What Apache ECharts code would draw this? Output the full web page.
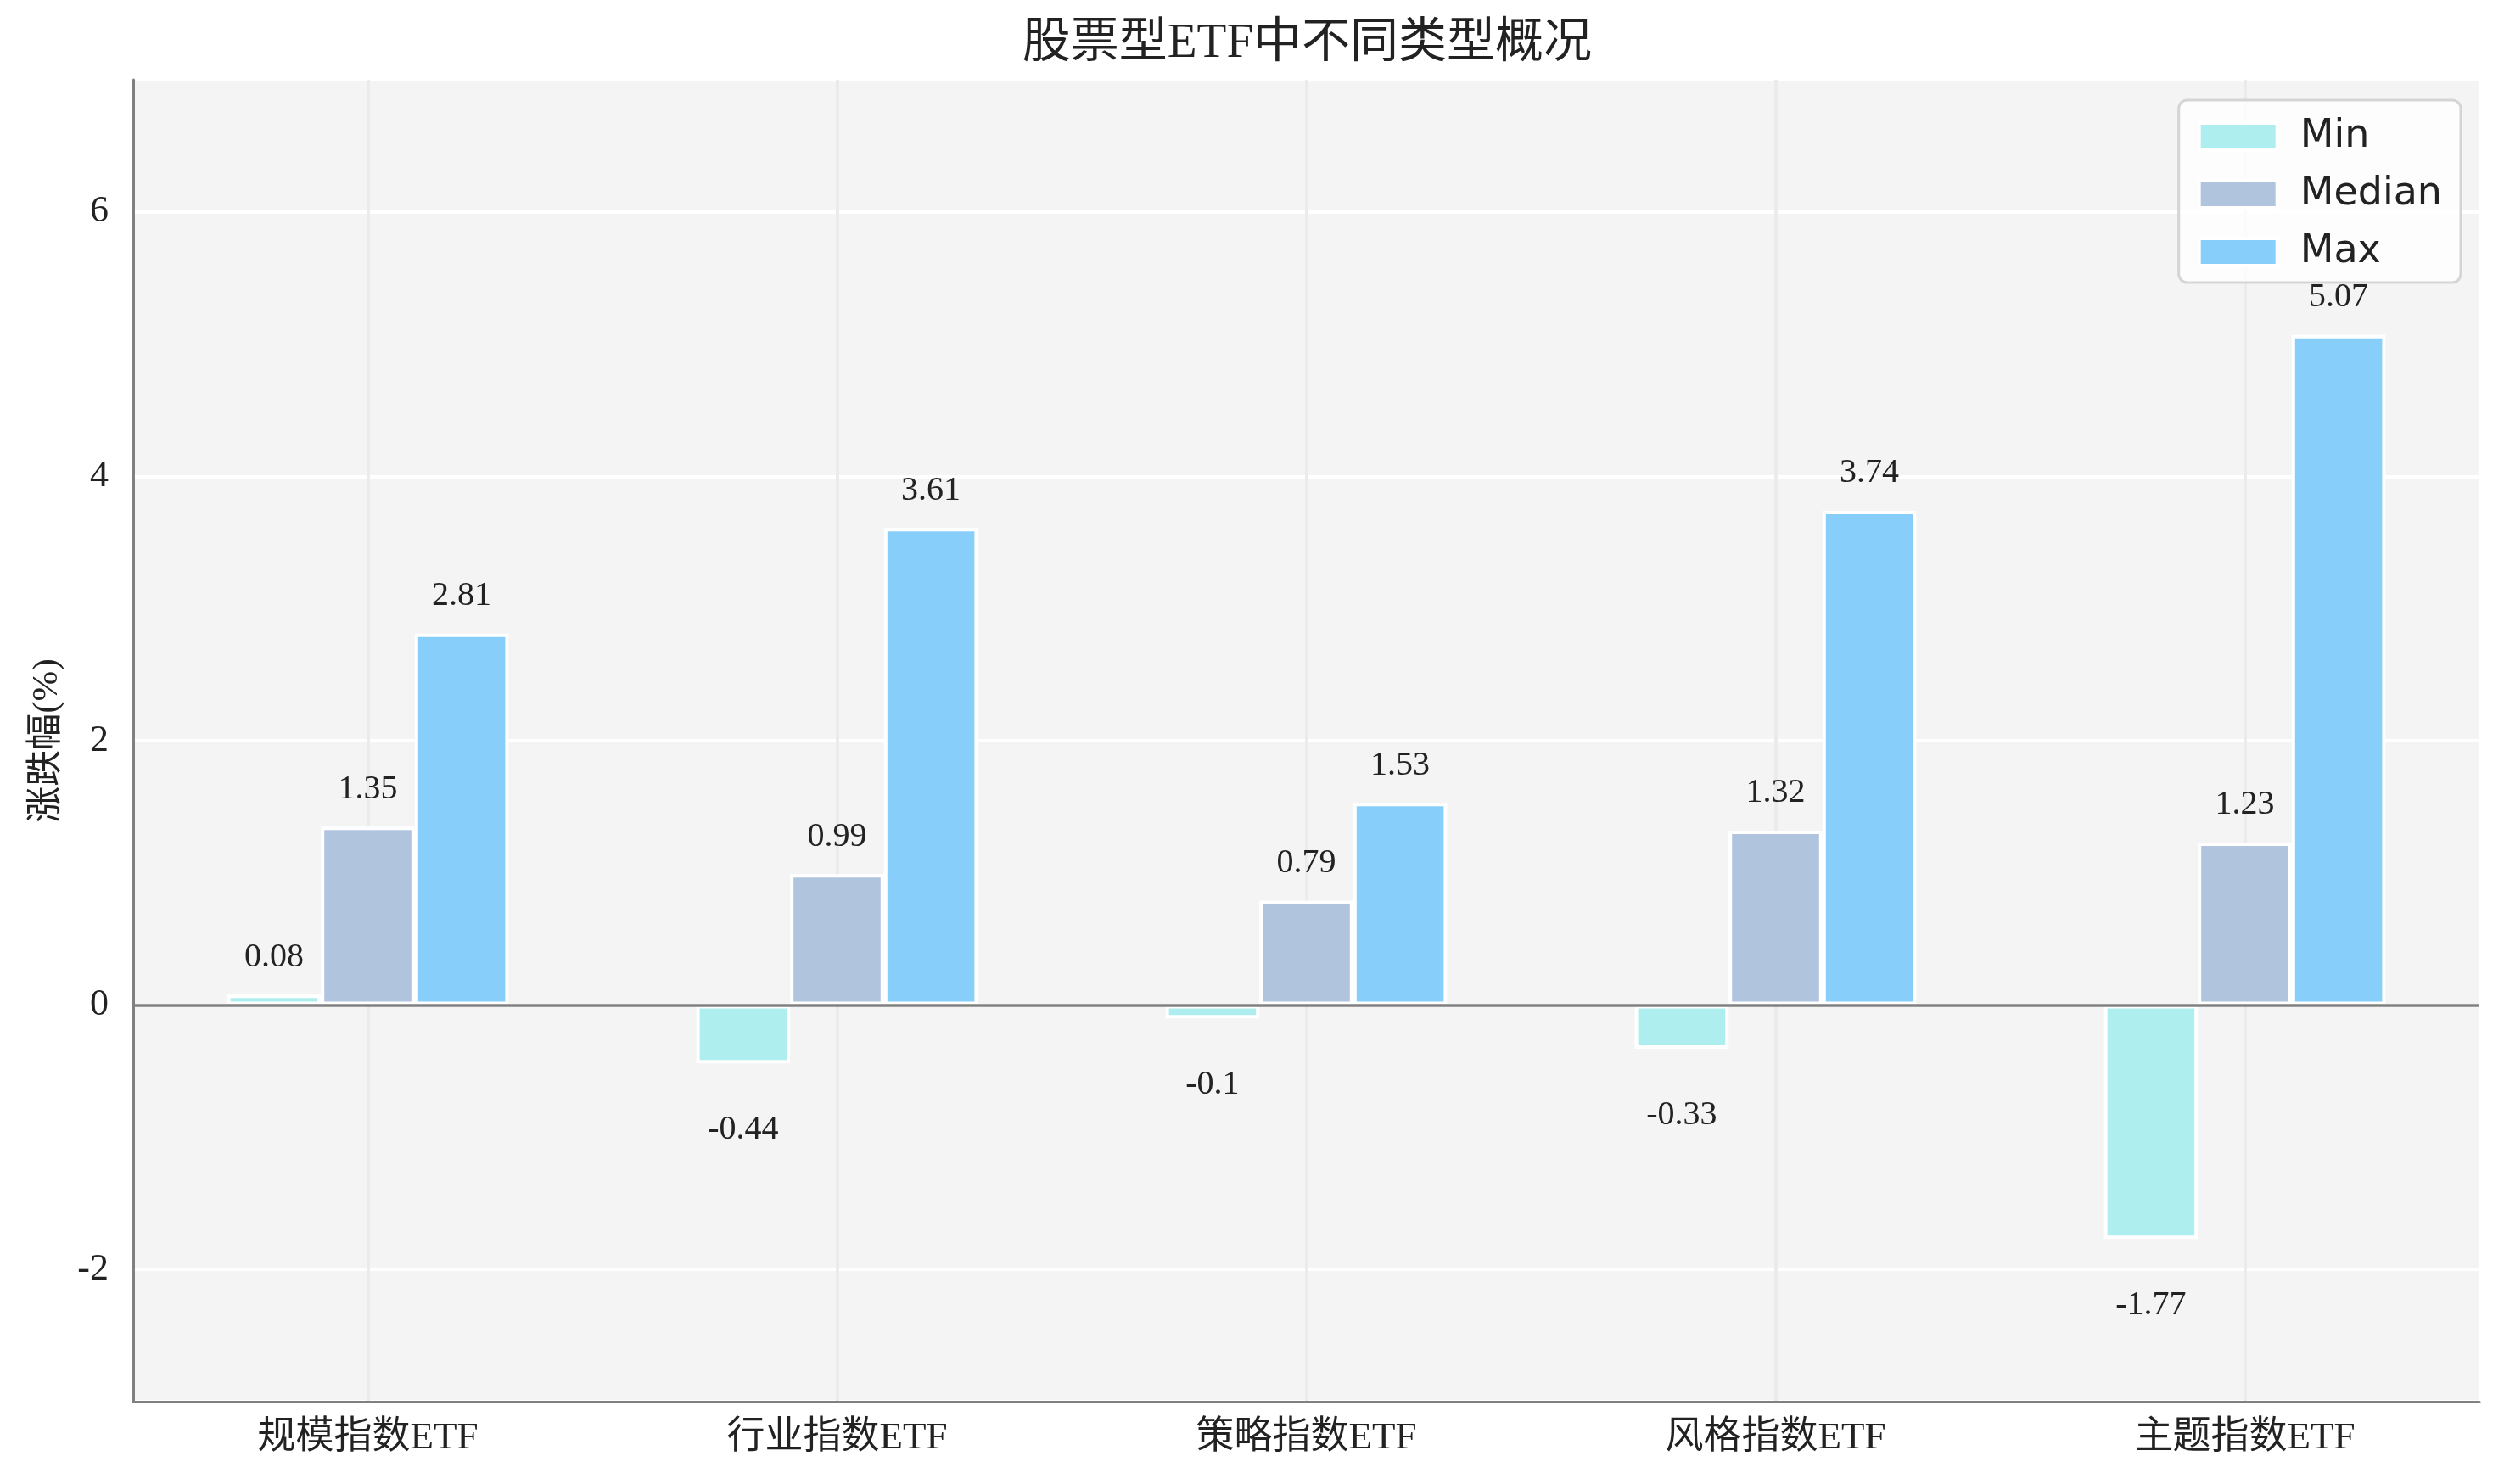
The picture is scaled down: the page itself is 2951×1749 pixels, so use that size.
<!DOCTYPE html>
<html>
<head>
<meta charset="utf-8">
<script src="https://cdn.jsdelivr.net/npm/echarts@6/dist/echarts.min.js"></script>
<style>
  html, body { margin: 0; padding: 0; background: #fff; }
  #chart { width: 2951px; height: 1749px; }
</style>
</head>
<body>
<div id="chart"></div>
<script>
var categories = ["规模指数ETF", "行业指数ETF", "策略指数ETF", "风格指数ETF", "主题指数ETF"];
var minValues = [0.08, -0.44, -0.1, -0.33, -1.77];
var medianValues = [1.35, 0.99, 0.79, 1.32, 1.23];
var maxValues = [2.81, 3.61, 1.53, 3.74, 5.07];
var seriesNames = ["Min", "Median", "Max"];
var seriesColors = ["#AFEEEE", "#B0C4DE", "#87CEFA"];

var serifFont = "'Liberation Serif', 'Noto Sans CJK SC', serif";

// labels sit above positive bars and below negative ones
function withLabels(values) {
  return values.map(function (v) {
    return {
      value: v,
      label: v >= 0
        ? { position: "top", distance: 24 }
        : { position: "bottom", distance: 58 }
    };
  });
}

function barSeries(name, values, color, extra) {
  var s = {
    name: name,
    type: "bar",
    barWidth: "20%",
    barGap: "0%",
    data: withLabels(values),
    itemStyle: {
      color: color,
      borderColor: "#fff",
      borderWidth: 4
    },
    label: {
      show: true,
      color: "#222",
      fontSize: 40,
      fontFamily: serifFont
    },
    emphasis: { disabled: true }
  };
  return Object.assign(s, extra || {});
}

var chartEl = document.getElementById("chart");
var chart = echarts.init(chartEl, null, { renderer: "canvas" });

chart.setOption({
  animation: false,
  backgroundColor: "#fff",
  title: {
    text: "股票型ETF中不同类型概况",
    left: "52.2%",
    textAlign: "center",
    top: 24,
    padding: 0,
    textStyle: {
      fontSize: 57,
      fontWeight: "normal",
      color: "#222",
      fontFamily: serifFont
    }
  },
  legend: {
    orient: "vertical",
    right: 51,
    top: 118,
    padding: [20, 22, 13, 22],
    itemWidth: 92,
    itemHeight: 32,
    itemGap: 22,
    backgroundColor: "rgba(255,255,255,0.8)",
    borderColor: "#d5d5d5",
    borderWidth: 3,
    borderRadius: 10,
    icon: "rect",
    itemStyle: { borderColor: "#fff", borderWidth: 4 },
    textStyle: {
      fontSize: 46,
      lineHeight: 45,
      color: "#222",
      fontFamily: "'DejaVu Sans', sans-serif",
      padding: [0, 0, 0, 22]
    },
    data: seriesNames
  },
  grid: {
    left: 157,
    right: 29,
    top: 94,
    bottom: 97,
    show: true,
    backgroundColor: "#f4f4f4",
    borderWidth: 0
  },
  xAxis: {
    type: "category",
    data: categories,
    axisLine: { onZero: false, lineStyle: { color: "#808080", width: 3 } },
    axisTick: { show: false, alignWithLabel: true },
    splitLine: {
      show: true,
      alignWithLabel: true,
      lineStyle: { color: "#ebebeb", width: 4 }
    },
    axisLabel: {
      margin: 21,
      fontSize: 45,
      color: "#222",
      fontFamily: serifFont
    }
  },
  yAxis: {
    type: "value",
    min: -3,
    max: 7,
    splitNumber: 5,
    name: "涨跌幅(%)",
    nameLocation: "middle",
    nameGap: 80,
    nameRotate: 90,
    nameTextStyle: {
      fontSize: 43,
      color: "#222",
      fontFamily: serifFont
    },
    axisLine: { show: true, lineStyle: { color: "#808080", width: 3 } },
    axisTick: { show: false },
    splitLine: { lineStyle: { color: "#ffffff", width: 4 } },
    axisLabel: {
      margin: 29,
      fontSize: 44,
      color: "#222",
      fontFamily: serifFont,
      showMinLabel: false,
      showMaxLabel: false
    }
  },
  series: [
    barSeries(seriesNames[0], minValues, seriesColors[0]),
    barSeries(seriesNames[1], medianValues, seriesColors[1]),
    barSeries(seriesNames[2], maxValues, seriesColors[2], {
      markLine: {
        silent: true,
        symbol: ["none", "none"],
        label: { show: false },
        lineStyle: { color: "#808080", width: 3.5, type: "solid" },
        data: [{ yAxis: 0 }]
      }
    })
  ]
});
</script>
</body>
</html>
